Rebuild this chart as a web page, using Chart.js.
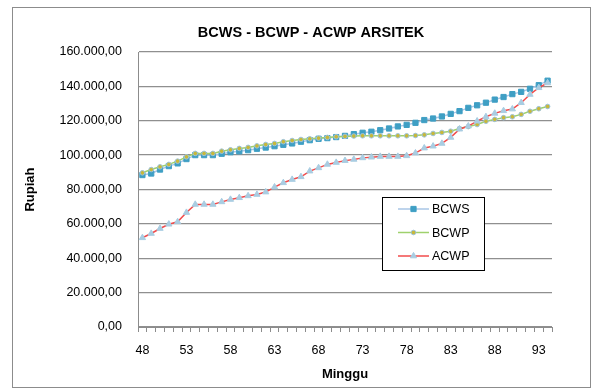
<!DOCTYPE html>
<html lang="id">
<head>
<meta charset="UTF-8" />
<title>BCWS - BCWP - ACWP ARSITEK</title>
<script src="https://cdn.jsdelivr.net/npm/chart.js"></script>
<style>
  html, body { margin: 0; padding: 0; background: #fff; }
  #wrap { position: relative; width: 609px; height: 392px; }
</style>
</head>
<body>
<div id="wrap"><canvas id="chart" width="609" height="392"></canvas></div>
<script>
// minggu ke-48 s/d 94
const weeks = [48, 49, 50, 51, 52, 53, 54, 55, 56, 57, 58, 59, 60, 61, 62, 63, 64, 65, 66, 67, 68, 69, 70,
  71, 72, 73, 74, 75, 76, 77, 78, 79, 80, 81, 82, 83, 84, 85, 86, 87, 88, 89, 90, 91, 92, 93, 94];
const shownWeeks = [48, 53, 58, 63, 68, 73, 78, 83, 88, 93];

const bcws = [88400, 89300, 91600, 93600, 95200, 97700, 100000, 100000, 100000, 100800, 101700, 102200,
  102900, 103700, 104400, 105200, 106000, 106800, 107800, 108700, 109500, 109900, 110500, 111200,
  112200, 113000, 113600, 114500, 115500, 116700, 117600, 118800, 120400, 121300, 122500, 124000,
  125600, 127500, 129000, 130500, 132300, 133800, 135500, 136800, 138600, 140700, 143300];
const bcwp = [89700, 91600, 93200, 94600, 96500, 99000, 101000, 101000, 101000, 102300, 103100, 103900,
  104500, 105400, 106200, 106800, 107800, 108500, 109100, 109500, 109900, 110300, 110700, 110900,
  111100, 111250, 111250, 111250, 111250, 111250, 111250, 111400, 111800, 112600, 113200, 113900,
  115500, 116600, 117800, 119700, 120800, 121800, 122300, 123700, 125500, 127000, 128300];
const acwp = [51900, 54400, 57300, 59800, 61200, 66600, 71300, 71300, 71300, 72800, 74200, 75200,
  76300, 77100, 78500, 81400, 83900, 85800, 87400, 90700, 92600, 94600, 95700, 96800,
  97500, 98400, 98800, 99200, 99200, 99200, 99600, 101200, 104100, 105200, 106800, 110300,
  115100, 116900, 119800, 122300, 124300, 125800, 126800, 130500, 135300, 139200, 142000];

const chartTitle = "BCWS - BCWP - ACWP ARSITEK";
const FONT = "'Liberation Sans', Arial, sans-serif";

function rupiah(v) {
  const s = Math.round(v).toString().replace(/\B(?=(\d{3})+(?!\d))/g, ".");
  return s + ",00";
}

const series = [
  { label: "BCWS", data: bcws, line: "#a8c6e6", fill: "#3f9fc4", border: "#3f9fc4", style: "rect", r: 3.7, order: 2 },
  { label: "BCWP", data: bcwp, line: "#9fd16c", fill: "#c8b83a", border: "#9cc3dc", style: "circle", r: 2.3, order: 1 },
  { label: "ACWP", data: acwp, line: "#f24b4b", fill: "#a9cde2", border: "#a9cde2", style: "triangle", r: 3.6, order: 0 }
];

// bingkai luar, judul, legenda di dalam area grafik
const frameAndLegend = {
  id: "frameAndLegend",
  beforeDraw(chart) {
    const ctx = chart.ctx;
    ctx.save();
    ctx.fillStyle = "#fff";
    ctx.fillRect(0, 0, chart.width, chart.height);
    ctx.strokeStyle = "#8c8c8c";
    ctx.lineWidth = 1;
    ctx.strokeRect(12.5, 7.5, 578, 380);
    ctx.fillStyle = "#000";
    ctx.font = "bold 14.5px " + FONT;
    ctx.textAlign = "center";
    ctx.textBaseline = "middle";
    ctx.fillText(chartTitle, 311, 33);
    ctx.restore();
  },
  afterDraw(chart) {
    const ctx = chart.ctx;
    const bx = 382, by = 197, bw = 102, bh = 73;
    ctx.save();
    ctx.fillStyle = "#fff";
    ctx.fillRect(bx, by, bw, bh);
    ctx.strokeStyle = "#000";
    ctx.lineWidth = 1;
    ctx.strokeRect(bx + 0.5, by + 0.5, bw, bh);
    ctx.font = "12.5px " + FONT;
    ctx.textBaseline = "middle";
    ctx.textAlign = "left";
    series.forEach((s, i) => {
      const y = by + 12 + i * 23.5;
      ctx.strokeStyle = s.line;
      ctx.lineWidth = 1.5;
      ctx.beginPath();
      ctx.moveTo(398, y);
      ctx.lineTo(429, y);
      ctx.stroke();
      ctx.fillStyle = s.fill;
      ctx.strokeStyle = s.border;
      ctx.lineWidth = 1;
      Chart.helpers.drawPoint(ctx, { pointStyle: s.style, radius: s.r, rotation: 0, borderWidth: 1 }, 413.5, y);
      ctx.fillStyle = "#000";
      ctx.fillText(s.label, 432, y + 1);
    });
    ctx.restore();
  }
};

new Chart(document.getElementById("chart"), {
  type: "line",
  data: {
    labels: weeks,
    datasets: series.map(s => ({
      label: s.label,
      data: s.data,
      order: s.order,
      borderColor: s.line,
      borderWidth: 1.5,
      pointStyle: s.style,
      pointRadius: s.r,
      pointBackgroundColor: s.fill,
      pointBorderColor: s.border,
      pointBorderWidth: 1,
      tension: 0,
      fill: false
    }))
  },
  options: {
    responsive: false,
    animation: false,
    events: [],
    layout: { padding: { left: 12, right: 57, top: 52, bottom: 6 } },
    plugins: {
      legend: { display: false },
      tooltip: { enabled: false },
      title: { display: false }
    },
    scales: {
      x: {
        type: "category",
        offset: true,
        border: { display: true, color: "#8c8c8c", width: 1 },
        grid: { display: true, offset: true, drawOnChartArea: false, drawTicks: true, tickLength: 5, color: "#8c8c8c" },
        ticks: {
          autoSkip: false,
          maxRotation: 0,
          padding: 11,
          color: "#000",
          font: { family: FONT, size: 12.5 },
          callback(v, i) {
            const w = weeks[i];
            return shownWeeks.includes(w) ? String(w) : "";
          }
        },
        title: {
          display: true,
          text: "Minggu",
          color: "#000",
          font: { family: FONT, size: 13, weight: "bold" },
          padding: { top: 4, bottom: 4 }
        },
        afterFit(scale) { scale.height = 59; }
      },
      y: {
        min: 0,
        max: 160000,
        border: { display: true, color: "#8c8c8c", width: 1 },
        grid: { color: "#8f8f8f", lineWidth: 1.3, drawTicks: false },
        ticks: {
          stepSize: 20000,
          padding: 16,
          color: "#000",
          font: { family: FONT, size: 12.5 },
          callback: v => rupiah(v)
        },
        title: {
          display: true,
          text: "Rupiah",
          color: "#000",
          font: { family: FONT, size: 13, weight: "bold" },
          padding: { top: 11, bottom: 4 }
        },
        afterFit(scale) { scale.width = 126; }
      }
    }
  },
  plugins: [frameAndLegend]
});
</script>
</body>
</html>
